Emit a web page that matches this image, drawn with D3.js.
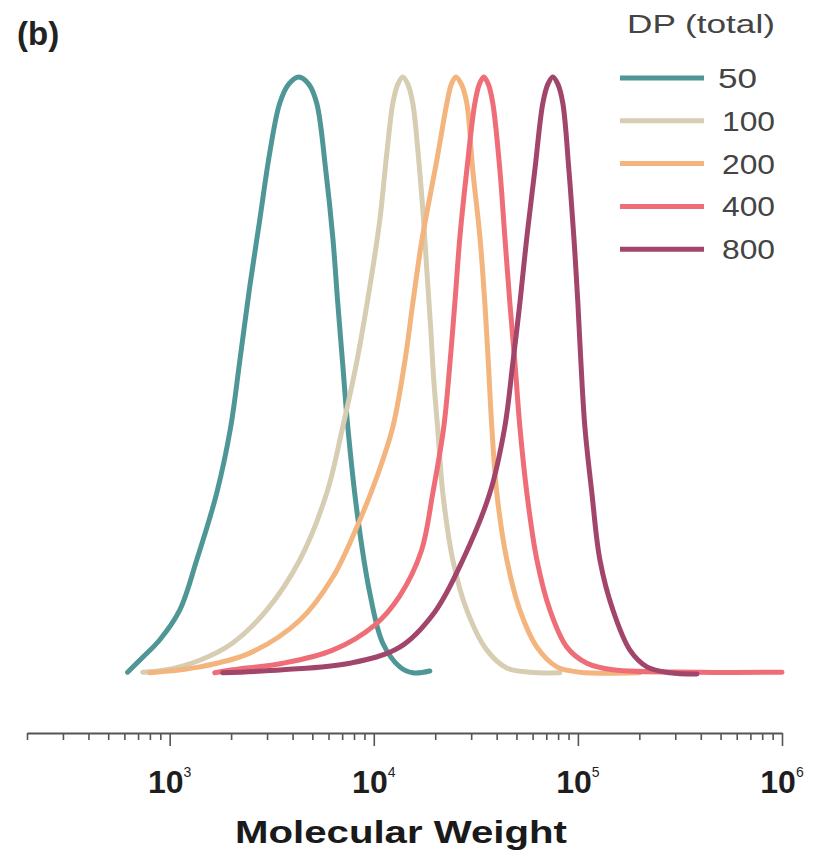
<!DOCTYPE html>
<html>
<head>
<meta charset="utf-8">
<script src="https://cdn.jsdelivr.net/npm/d3@7"></script>
<style>
  body { margin: 0; background: #fff; }
  svg { display: block; }
</style>
</head>
<body>
<svg id="chart" width="813" height="852"></svg>
<script>
// molecular weight distributions, [MW, normalised height]
const dp50 = [
  [622, 0.003], [738, 0.028], [893, 0.057], [1120, 0.107], [1357, 0.191],
  [1700, 0.303], [1991, 0.414], [2203, 0.523], [2466, 0.648], [2761, 0.760],
  [3092, 0.873], [3461, 0.956], [3831, 0.988], [4290, 1.0], [4801, 0.988],
  [5254, 0.956], [5816, 0.844], [6295, 0.732], [6663, 0.621], [7047, 0.518],
  [7459, 0.414], [8254, 0.275], [9556, 0.136], [11060, 0.052], [13410, 0.012],
  [15530, 0.002], [18820, 0.005],
];
const dp100 = [
  [738, 0.003], [967, 0.007], [1403, 0.023], [2036, 0.052], [2987, 0.107],
  [4339, 0.191], [5883, 0.303], [7047, 0.414], [8254, 0.523], [9556, 0.648],
  [10700, 0.760], [11590, 0.873], [12400, 0.956], [13120, 0.988], [13870, 1.0],
  [14680, 0.988], [15530, 0.956], [16430, 0.878], [17390, 0.777], [18190, 0.677],
  [19030, 0.576], [19680, 0.492], [20590, 0.409], [21790, 0.303], [24390, 0.191],
  [28560, 0.107], [35810, 0.040], [44870, 0.010], [58210, 0.003], [81630, 0.002],
];
const dp200 = [
  [798, 0.002], [1403, 0.012], [2466, 0.035], [4339, 0.090], [6295, 0.162],
  [8254, 0.246], [10350, 0.330], [12400, 0.414], [14190, 0.523], [15530, 0.621],
  [17180, 0.725], [20370, 0.861], [22810, 0.956], [23990, 0.988], [25240, 1.0],
  [26850, 0.988], [28560, 0.956], [30550, 0.844], [33110, 0.732], [35010, 0.621],
  [36410, 0.521], [37870, 0.414], [40070, 0.303], [44870, 0.191], [51970, 0.107],
  [62980, 0.045], [78890, 0.012], [102300, 0.003], [201000, 0.002],
];
const dp400 = [
  [1663, 0.002], [2036, 0.007], [3580, 0.018], [6295, 0.040], [10110, 0.082],
  [13410, 0.131], [17100, 0.206], [19460, 0.303], [22030, 0.414], [23590, 0.519],
  [24950, 0.621], [26420, 0.732], [28560, 0.844], [31270, 0.956], [32890, 0.988],
  [34600, 1.0], [36410, 0.988], [38300, 0.956], [41480, 0.844], [43870, 0.732],
  [46430, 0.621], [49100, 0.523], [51970, 0.414], [56230, 0.303], [62980, 0.191],
  [72960, 0.107], [88310, 0.045], [110700, 0.018], [148500, 0.007], [396500, 0.003],
  [1000000, 0.003],
];
const dp800 = [
  [1820, 0.002], [3580, 0.007], [7624, 0.018], [13410, 0.045], [19910, 0.104],
  [27290, 0.191], [37040, 0.303], [43850, 0.414], [48000, 0.521], [51970, 0.621],
  [56230, 0.732], [61520, 0.844], [67330, 0.956], [71290, 0.988], [75360, 1.0],
  [79800, 0.988], [84370, 0.956], [90360, 0.844], [95550, 0.732], [100000, 0.621],
  [103500, 0.521], [108200, 0.414], [117100, 0.303], [128200, 0.191], [148500, 0.107],
  [179900, 0.040], [217900, 0.012], [282700, 0.002], [383200, 0.0],
];

const seriesNames = ["50", "100", "200", "400", "800"];
const seriesData = [dp50, dp100, dp200, dp400, dp800];
const colors = ["#4f9797", "#d6cdb3", "#f3b47d", "#ee6d76", "#a2456a"];
const majorTicks = [1e3, 1e4, 1e5, 1e6];

const FONT = "Liberation Sans, Arial, sans-serif";
const svg = d3.select("#chart");

const x = d3.scaleLog().domain([200, 1e6]).range([27, 782]);
const y = d3.scaleLinear().domain([0, 1]).range([674, 77]);

// axis with minor ticks
const tickVals = [];
for (let e = 2; e <= 5; e++) {
  for (let m = 1; m <= 9; m++) {
    const v = m * Math.pow(10, e);
    if (v >= 200) tickVals.push(v);
  }
}
tickVals.push(1e6);

const axis = svg.append("g")
  .attr("transform", "translate(0,733)")
  .call(d3.axisBottom(x).tickValues(tickVals).tickFormat("").tickSizeOuter(0));

axis.select(".domain").attr("stroke", "#555").attr("stroke-width", 2);
axis.selectAll(".tick line")
  .attr("stroke", "#555")
  .attr("stroke-width", 1.6)
  .attr("y2", (d) => (majorTicks.includes(d) ? 13 : 7));

// tick labels 10^n
const labels = svg.append("g")
  .selectAll("text")
  .data(majorTicks)
  .enter()
  .append("text")
  .attr("x", (d) => x(d))
  .attr("y", 793)
  .attr("text-anchor", "middle")
  .style("font-family", FONT)
  .style("font-weight", "700")
  .style("font-size", "32px")
  .style("fill", "#1e1e1e");
labels.append("tspan").text("10");
labels.append("tspan")
  .attr("dy", -16)
  .style("font-size", "14px")
  .style("font-weight", "400")
  .text((d) => Math.round(Math.log10(d)));

svg.append("text")
  .attr("x", 235)
  .attr("y", 843)
  .attr("textLength", 332)
  .attr("lengthAdjust", "spacingAndGlyphs")
  .style("font-family", FONT)
  .style("font-weight", "700")
  .style("font-size", "32px")
  .style("fill", "#1a1a1a")
  .text("Molecular Weight");

svg.append("text")
  .attr("x", 17)
  .attr("y", 45)
  .style("font-family", FONT)
  .style("font-weight", "700")
  .style("font-size", "33px")
  .style("fill", "#222")
  .text("(b)");

// curves
const line = d3.line()
  .x((d) => x(d[0]))
  .y((d) => y(d[1]))
  .curve(d3.curveCatmullRom.alpha(0.5));

svg.append("g")
  .selectAll("path")
  .data(seriesData)
  .enter()
  .append("path")
  .attr("d", line)
  .style("fill", "none")
  .style("stroke", (d, i) => colors[i])
  .style("stroke-width", 5)
  .style("stroke-linecap", "round")
  .style("stroke-linejoin", "round");

// legend
svg.append("text")
  .attr("x", 627)
  .attr("y", 33)
  .attr("textLength", 148)
  .attr("lengthAdjust", "spacingAndGlyphs")
  .style("font-family", FONT)
  .style("font-size", "26px")
  .style("fill", "#444")
  .text("DP (total)");

const legend = svg.append("g")
  .selectAll("g")
  .data(seriesNames)
  .enter()
  .append("g")
  .attr("transform", (d, i) => `translate(0,${78 + i * 42.8})`);

legend.append("line")
  .attr("x1", 620)
  .attr("x2", 704)
  .style("stroke", (d, i) => colors[i])
  .style("stroke-width", 5);

legend.append("text")
  .attr("x", (d) => (d.length === 2 ? 718 : 722))
  .attr("dy", "0.36em")
  .attr("textLength", (d) => (d.length === 2 ? 39 : 53))
  .attr("lengthAdjust", "spacingAndGlyphs")
  .style("font-family", FONT)
  .style("font-size", "28px")
  .style("fill", "#444")
  .text((d) => d);
</script>
</body>
</html>
